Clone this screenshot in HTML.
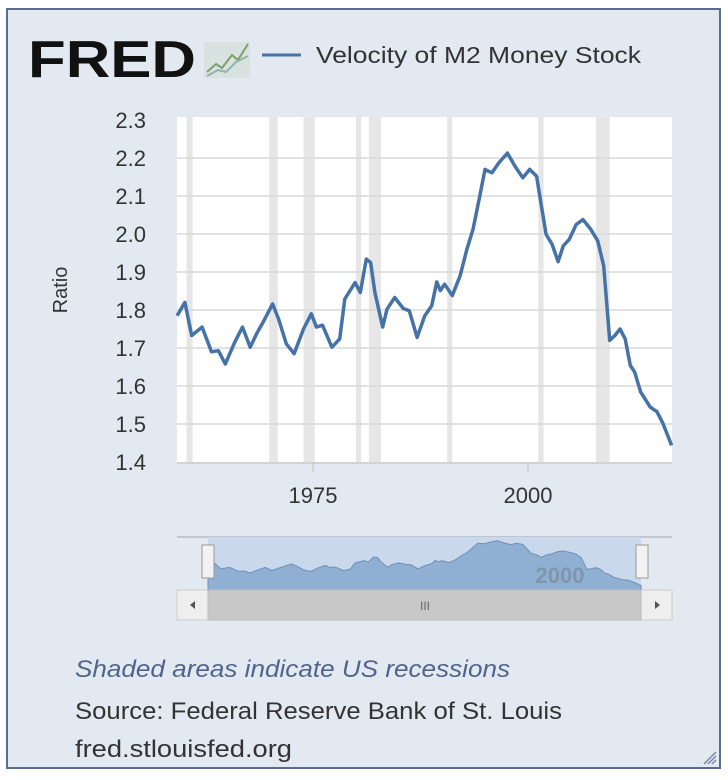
<!DOCTYPE html>
<html><head><meta charset="utf-8"><style>
html,body{margin:0;padding:0;background:#fff;width:728px;height:780px;overflow:hidden}
#frame{position:absolute;left:6px;top:8px;width:711px;height:757px;border:2px solid #5b6c8c;background:#e3e9f0}
svg{position:absolute;left:0;top:0}
text{font-family:"Liberation Sans",sans-serif}
</style></head><body>
<div id="frame"></div>
<svg id="chart" width="728" height="780">
 <text x="28" y="77" font-size="52" font-weight="bold" fill="#111" textLength="168" lengthAdjust="spacingAndGlyphs">FRED</text>
 <g>
  <rect x="204" y="42" width="46" height="36" fill="#d8e2e0"/>
  <polyline points="207,72 216,64 222,68 232,55 238,60 248,44" fill="none" stroke="#7aa06a" stroke-width="2"/>
  <polyline points="207,76 218,70 226,72 236,62 248,56" fill="none" stroke="#8fb5a8" stroke-width="2"/>
 </g>
 <line x1="262" y1="55" x2="301" y2="55" stroke="#4572a7" stroke-width="3"/>
 <text x="316" y="63" font-size="23" fill="#333" textLength="325" lengthAdjust="spacingAndGlyphs">Velocity of M2 Money Stock</text>
 <rect x="177" y="117" width="495" height="345" fill="#fff"/>
 <g id="rec"></g>
 <g id="grid"></g>
 <g id="yt"></g>
 <g id="xt"></g>
 <text transform="translate(67,290) rotate(-90)" text-anchor="middle" font-size="20" fill="#333">Ratio</text>
 <path id="line" fill="none" stroke="#4572a7" stroke-width="3.5" stroke-linejoin="round"/>
 <g>
  <line x1="177" y1="537" x2="672" y2="537" stroke="#9aa3ad" stroke-width="1"/>
  <rect x="208" y="537" width="433" height="53" fill="#c9d8ea"/>
  <path id="nav" fill="#8fb0d3" stroke="#6f8fb5" stroke-width="1"/>
  <text x="560" y="583" font-size="22" font-weight="bold" fill="#7f95ad" text-anchor="middle">2000</text>
  <rect x="202" y="545" width="12" height="33" fill="#f2f2f2" stroke="#999"/>
  <rect x="636" y="545" width="12" height="33" fill="#f2f2f2" stroke="#999"/>
 </g>
 <g>
  <rect x="177" y="590" width="495" height="30" fill="#eee" stroke="#ccc"/>
  <rect x="208" y="590" width="433" height="30" fill="#c8c8c8" stroke="#bbb"/>
  <text x="425" y="610" font-size="12" fill="#666" text-anchor="middle">III</text>
  <path d="M190,605 l5,-4 v8z" fill="#555"/>
  <path d="M660,605 l-5,-4 v8z" fill="#555"/>
 </g>
 <text x="75" y="677" font-size="24" font-style="italic" fill="#50648c" textLength="435" lengthAdjust="spacingAndGlyphs">Shaded areas indicate US recessions</text>
 <text x="75" y="719" font-size="24" fill="#333" textLength="487" lengthAdjust="spacingAndGlyphs">Source: Federal Reserve Bank of St. Louis</text>
 <text x="75" y="757" font-size="24" fill="#333" textLength="217" lengthAdjust="spacingAndGlyphs">fred.stlouisfed.org</text>
 <path d="M704,764 l12,-12 M708,764 l8,-8 M712,764 l4,-4" stroke="#7a8aa8" stroke-width="1.5"/>
</svg>
<script>
const years=[1959.2,1960.1,1960.9,1962.1,1963.2,1964,1964.8,1965.9,1966.8,1967.7,1968.5,1969.2,1970.3,1971,1971.9,1972.8,1973.9,1974.8,1975.4,1976.1,1977.2,1978.1,1978.7,1979.9,1980.5,1981.2,1981.7,1982.2,1983.1,1983.6,1984.5,1985.5,1986.2,1987.1,1988,1988.8,1989.4,1989.8,1990.3,1991.2,1992.1,1992.9,1993.6,1994.4,1995,1995.8,1996.6,1997.6,1998.5,1999.4,2000.2,2001,2001.5,2002.1,2002.8,2003.5,2004.1,2004.8,2005.6,2006.4,2007.3,2008.1,2008.8,2009.5,2010.1,2010.7,2011.3,2011.9,2012.4,2013.1,2014.2,2015,2015.7,2016.7];
const values=[1.785,1.82,1.733,1.755,1.69,1.693,1.658,1.715,1.755,1.702,1.74,1.768,1.816,1.776,1.711,1.685,1.75,1.79,1.755,1.76,1.702,1.724,1.829,1.872,1.846,1.934,1.925,1.846,1.755,1.802,1.833,1.804,1.798,1.728,1.785,1.811,1.874,1.851,1.868,1.838,1.89,1.96,2.012,2.1,2.17,2.161,2.187,2.213,2.178,2.148,2.17,2.152,2.082,1.999,1.973,1.927,1.969,1.986,2.025,2.038,2.012,1.982,1.916,1.72,1.733,1.75,1.724,1.654,1.637,1.584,1.545,1.532,1.501,1.444];
const recStart=[1960.3,1969.9,1973.9,1980.0,1981.5,1990.6,2001.2,2007.9];
const recEnd=[1961.0,1970.9,1975.2,1980.6,1982.9,1991.2,2001.8,2009.5];
const yTicks=[1.4,1.5,1.6,1.7,1.8,1.9,2.0,2.1,2.2,2.3];
const yTickLabels=["1.4","1.5","1.6","1.7","1.8","1.9","2.0","2.1","2.2","2.3"];
const xTicks=[1975,2000];
const xTickLabels=["1975","2000"];
const NS='http://www.w3.org/2000/svg';
const X0=177,X1=672,Y0=117,Y1=462;
const xs=y=>313+(y-1975)*8.6;
const ys=v=>462-(v-1.4)/0.9*342;
const nx=y=>208+(y-years[0])/(years[years.length-1]-years[0])*433;
const ny=v=>541+(2.21-v)*58;
function mk(tag,parent,attrs){const e=document.createElementNS(NS,tag);for(const k in attrs)e.setAttribute(k,attrs[k]);document.getElementById(parent).appendChild(e);return e;}
recStart.forEach((s,i)=>{
 const r=mk('rect','rec',{x:xs(s),y:Y0,width:xs(recEnd[i])-xs(s),height:Y1-Y0,fill:'#e6e6e6'});
 
 
});
yTicks.forEach((t,i)=>{
 const y=ys(t);
 if(t>1.4&&t<2.3){const l=mk('line','grid',{x1:X0,x2:X1,y1:y,y2:y,stroke:'#d9d9d9','stroke-width':1.5});
 
 }
 const tx=mk('text','yt',{x:146,y:y+8,'text-anchor':'end','font-size':22,fill:'#333'});
 tx.textContent=yTickLabels[i];
 
 
});
const ax=mk('line','xt',{x1:X0,x2:X1,y1:Y1+1,y2:Y1+1,stroke:'#ccc','stroke-width':1.5});


xTicks.forEach((t,i)=>{
 const x=xs(t);
 const l=mk('line','xt',{x1:x,x2:x,y1:Y1,y2:Y1+10,stroke:'#ccc','stroke-width':1.5});
 
 
 const tx=mk('text','xt',{x:x,y:503,'text-anchor':'middle','font-size':22,fill:'#333'});
 tx.textContent=xTickLabels[i];
 
 
});
document.getElementById('line').setAttribute('d',years.map((y,i)=>(i?'L':'M')+xs(y).toFixed(1)+','+ys(values[i]).toFixed(1)).join(''));
let d='M'+nx(years[0])+',590'+years.map((y,i)=>'L'+nx(y).toFixed(1)+','+ny(values[i]).toFixed(1)).join('')+'L'+nx(years[years.length-1])+',590Z';
document.getElementById('nav').setAttribute('d',d);
</script>
</body></html>
